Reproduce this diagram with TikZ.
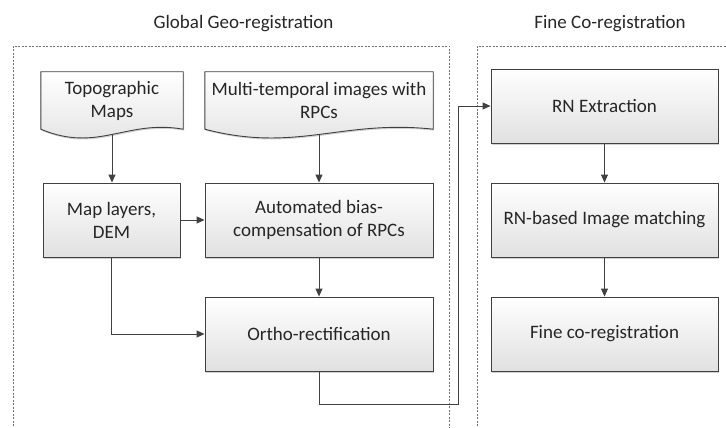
\documentclass[tikz,border=0pt]{standalone}
\usepackage{fontspec}
\setmainfont{Carlito}
\usetikzlibrary{arrows.meta,shadows,calc}
\definecolor{ln}{HTML}{404040}
\definecolor{txt}{HTML}{262626}
\begin{document}
\begin{tikzpicture}[x=1pt,y=-1pt,
  font=\fontsize{19}{23}\selectfont, text=txt,
  box/.style={draw=ln, line width=0.9pt, top color=white, bottom color=black!12,
    drop shadow={shadow xshift=1pt,shadow yshift=-1.5pt,fill=black!30,opacity=0.6},
    minimum height=74pt, inner sep=2pt, align=center},
  docfill/.style={draw=ln, line width=0.9pt, top color=white, bottom color=black!12,
    drop shadow={shadow xshift=1pt,shadow yshift=-1.5pt,fill=black!30,opacity=0.6}},
  doctext/.style={minimum height=57pt, inner sep=0pt, align=center},
  arr/.style={draw=ln, line width=0.9pt, -{Triangle[length=8pt,width=7pt]}},
  frame/.style={draw=black!55, line width=0.6pt, dash pattern=on 2pt off 1.5pt}]
\useasboundingbox (0,0) rectangle (726,428);
% frames
\draw[frame] (13,440) -- (13,46) -- (449,46) -- (449,440);
\draw[frame] (477,440) -- (477,46) -- (730,46);
% titles
\node (t1) at (243.5,24) {Global Geo-registration};
\node (t2) at (610,24) {Fine Co-registration};
% document shapes
\node[doctext, minimum width=142pt] (topo) at (112,100.5) {};
\path[docfill] (topo.north west) -- (topo.north east) -- (topo.south east)
  .. controls ($(topo.south west)!0.6!(topo.south east)+(0,-10)$) and ($(topo.south west)!0.4!(topo.south east)+(0,24)$) ..
  node[coordinate,pos=0.5] (tb) {} (topo.south west) -- cycle;
\node[doctext, minimum width=142pt] at (topo) {Topographic\\Maps};
\node[doctext, minimum width=228pt] (multi) at (319,100.5) {};
\path[docfill] (multi.north west) -- (multi.north east) -- (multi.south east)
  .. controls ($(multi.south west)!0.6!(multi.south east)+(0,-10)$) and ($(multi.south west)!0.4!(multi.south east)+(0,24)$) ..
  node[coordinate,pos=0.5] (mb) {} (multi.south west) -- cycle;
\node[doctext, minimum width=228pt] at (multi) {Multi-temporal images with\\RPCs};
% boxes
\node[box, minimum width=137pt] (map) at (111.5,220) {Map layers,\\DEM};
\node[box, minimum width=228pt] (auto) at (319,220) {Automated bias-\\compensation of RPCs};
\node[box, minimum width=228pt] (ortho) at (319,334) {Ortho-rectification};
\node[box, minimum width=227pt] (rn) at (604.5,106) {RN Extraction};
\node[box, minimum width=227pt] (rnm) at (604.5,220) {RN-based Image matching};
\node[box, minimum width=227pt] (fine) at (604.5,334) {Fine co-registration};
% connectors
\draw[arr] (tb) -- (tb |- map.north);
\draw[arr] (mb) -- (mb |- auto.north);
\draw[arr] (map) -- (auto);
\draw[arr] (auto) -- (ortho);
\draw[arr] (map.south) |- (ortho.west);
\coordinate (c1) at (458,404);
\draw[arr] (ortho.south) |- (c1) |- (rn.west);
\draw[arr] (rn) -- (rnm);
\draw[arr] (rnm) -- (fine);
\end{tikzpicture}
\end{document}
